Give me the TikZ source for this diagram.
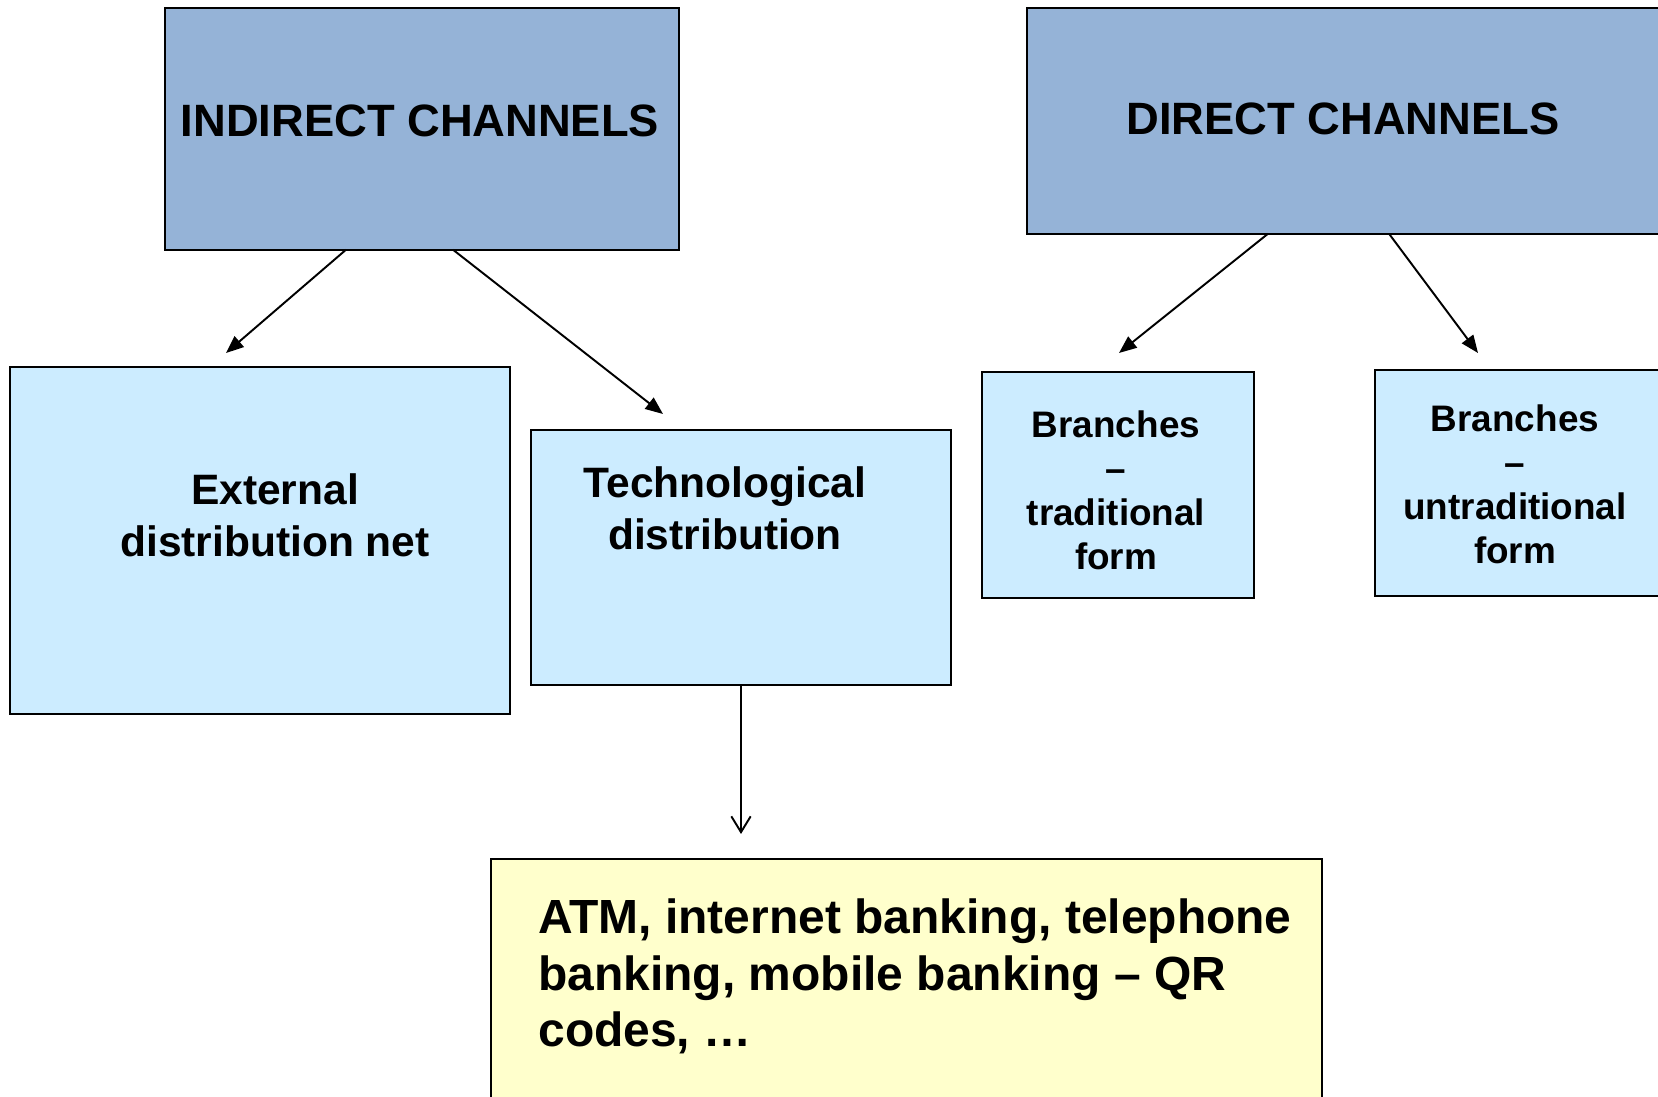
\documentclass[tikz,border=0pt]{standalone}
\usepackage{fontspec}
\setmainfont{Liberation Sans}
\usepackage{tikz}
\usetikzlibrary{calc, arrows.meta}
\definecolor{headblue}{HTML}{95B3D7}
\definecolor{lightblue}{HTML}{CCECFF}
\definecolor{paleyellow}{HTML}{FFFFCC}
\tikzstyle{box} = [rectangle, draw=black, line width=1pt, inner sep=0pt, outer sep=0pt]
\tikzstyle{txt} = [inner sep=0pt, anchor=base, align=center]
\tikzstyle{headtxt} = [txt, font=\fontsize{25.8}{30}\bfseries\selectfont]
\tikzstyle{midtxt} = [txt, font=\fontsize{24.2}{29.7}\bfseries\selectfont]
\tikzstyle{smalltxt} = [txt, font=\fontsize{21}{25.2}\bfseries\selectfont]
\tikzstyle{bigtxt} = [txt, anchor=base west, align=left, font=\fontsize{27.3}{32.3}\bfseries\selectfont]
\tikzstyle{arrow} = [line width=1.1pt, -{Triangle[length=10pt,width=8pt]}]
\tikzstyle{openarrow} = [line width=1.1pt, -{Straight Barb[length=9pt,width=11pt]}]

\begin{document}
\begin{tikzpicture}[x=0.02cm, y=-0.02cm]
  \useasboundingbox (0,0) rectangle (1658,1097);
  \clip (0,0) rectangle (1658,1097);

  \node (1) [box, fill=headblue, minimum width=10.28cm, minimum height=4.83cm] at (422,129) {};
  \node (2) [box, fill=headblue, minimum width=12.7cm, minimum height=4.51cm] at (1344.5,121) {};
  \node (3) [box, fill=lightblue, minimum width=9.99cm, minimum height=6.94cm] at (260,540.5) {};
  \node (4) [box, fill=lightblue, minimum width=8.4cm, minimum height=5.1cm] at (741,557.5) {};
  \node (5) [box, fill=lightblue, minimum width=5.44cm, minimum height=4.52cm] at (1118,485) {};
  \node (6) [box, fill=lightblue, minimum width=5.74cm, minimum height=4.52cm] at (1518.5,483) {};
  \node (7) [box, fill=paleyellow, minimum width=16.62cm, minimum height=5.02cm] at (906.5,984.5) {};

  % base anchor sits on the last line
  \node (t1) [headtxt] at (420,137) {INDIRECT CHANNELS};
  \node (t2) [headtxt] at (1343,135) {DIRECT CHANNELS};
  \node (t3) [midtxt] at (275,557) {External\\distribution net};
  \node (t4) [midtxt] at (725,550) {Technological\\distribution};
  \node (t5) [smalltxt] at (1116,570) {Branches\\–\\traditional\\form};
  \node (t6) [smalltxt] at (1515,564) {Branches\\–\\untraditional\\form};
  \node (t7) [bigtxt] at (538,1047) {ATM, internet banking, telephone\\banking, mobile banking – QR\\codes, …};

  \coordinate (c3) at (226,353);
  \coordinate (c4) at (663,414);
  \coordinate (c5) at (1119,353);
  \coordinate (c6) at (1478,353);
  \coordinate (c7) at (741,834);

  \draw [arrow] ($(1.south)+(-76,0)$) -- (c3);
  \draw [arrow] ($(1.south)+(31,0)$) -- (c4);
  \draw [arrow] ($(2.south)+(-76.5,0)$) -- (c5);
  \draw [arrow] ($(2.south)+(44.5,0)$) -- (c6);
  \draw [openarrow] (4.south) -- (c7);
\end{tikzpicture}
\end{document}
